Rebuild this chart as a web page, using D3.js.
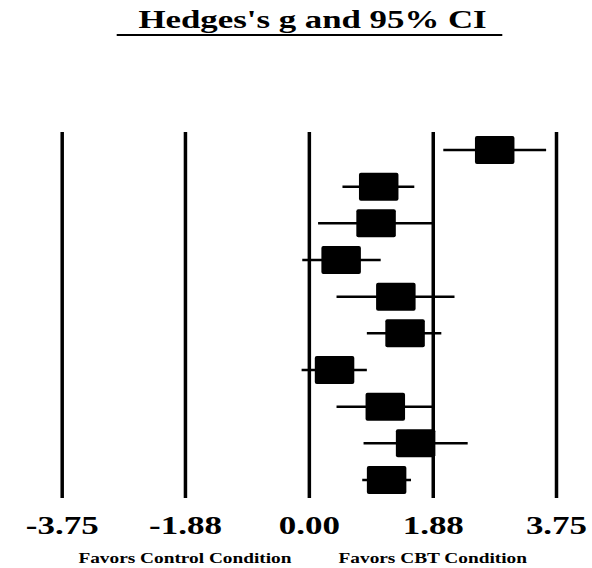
<!DOCTYPE html>
<html>
<head>
<meta charset="utf-8">
<script src="https://cdn.jsdelivr.net/npm/d3@7"></script>
<style>
  html, body { margin: 0; padding: 0; background: #fff; }
  svg { display: block; }
  text { font-family: "Liberation Serif", "Times New Roman", serif; font-weight: bold; fill: #000; }
</style>
</head>
<body>
<div id="chart"></div>
<script>
// study rows, top to bottom
const studies = ['1', '2', '3', '4', '5', '6', '7', '8', '9', '10'];
const hedgesG = [2.82, 1.06, 1.02, 0.49, 1.32, 1.46, 0.39, 1.16, 1.62, 1.18];
const ciLower = [2.04, 0.51, 0.14, -0.10, 0.42, 0.88, -0.11, 0.42, 0.83, 0.81];
const ciUpper = [3.60, 1.60, 1.91, 1.09, 2.21, 2.01, 0.88, 1.87, 2.41, 1.55];
const tickValues = [-3.75, -1.88, 0, 1.88, 3.75];
const titleText = "Hedges's g and 95% CI";
const leftLabel = 'Favors Control Condition';
const rightLabel = 'Favors CBT Condition';

const width = 592;
const height = 568;
const stretch = 1.4; // the original text is wide, squash it out horizontally

const svg = d3
    .select('#chart')
    .append('svg')
    .attr('width', width)
    .attr('height', height);

const data = studies.map((s, i) => ({
    study: s,
    g: hedgesG[i],
    lo: ciLower[i],
    hi: ciUpper[i]
}));

function drawChart() {
    const plot = { top: 132, bottom: 498, left: 61.7, right: 556 };

    const xScale = d3
        .scaleLinear()
        .domain([-3.75, 3.75])
        .range([plot.left, plot.right]);

    const yScale = d3
        .scalePoint()
        .domain(studies)
        .range([150, 480]);

    // vertical reference lines + tick labels
    const axis = svg.append('g')
        .attr('class', 'x-axis')
        .attr('transform', `translate(0, ${plot.bottom})`)
        .call(d3.axisBottom(xScale)
            .tickValues(tickValues)
            .tickSize(-(plot.bottom - plot.top))
            .tickFormat(d => d.toFixed(2)));

    axis.select('.domain').remove();
    axis.selectAll('line')
        .attr('stroke', '#000')
        .attr('stroke-width', 3.5);
    axis.selectAll('text')
        .attr('y', 36)
        .attr('dy', null)
        .attr('fill', '#000')
        .style('font-size', '25px')
        .attr('transform', `scale(${stretch}, 1)`);

    // confidence intervals
    svg.append('g')
        .attr('class', 'whiskers')
        .selectAll('line')
        .data(data)
        .join('line')
        .attr('x1', d => xScale(d.lo))
        .attr('x2', d => xScale(d.hi))
        .attr('y1', d => yScale(d.study))
        .attr('y2', d => yScale(d.study))
        .attr('stroke', '#000')
        .attr('stroke-width', 2.5);

    // effect size boxes
    const boxW = 39.5;
    const boxH = 28;
    svg.append('g')
        .attr('class', 'boxes')
        .selectAll('rect')
        .data(data)
        .join('rect')
        .attr('x', d => xScale(d.g) - boxW / 2)
        .attr('y', d => yScale(d.study) - boxH / 2)
        .attr('width', boxW)
        .attr('height', boxH)
        .attr('rx', 2)
        .attr('fill', '#000');

    // title with underline
    svg.append('text')
        .attr('transform', `translate(312.5, 28) scale(1.34, 1)`)
        .attr('text-anchor', 'middle')
        .style('font-size', '26px')
        .text(titleText);

    svg.append('line')
        .attr('x1', 116.7)
        .attr('x2', 502.3)
        .attr('y1', 35)
        .attr('y2', 35)
        .attr('stroke', '#000')
        .attr('stroke-width', 2);

    // direction labels under the axis
    svg.append('text')
        .attr('transform', `translate(${xScale(-1.88)}, 563) scale(1.38, 1)`)
        .attr('text-anchor', 'middle')
        .style('font-size', '14px')
        .text(leftLabel);

    svg.append('text')
        .attr('transform', `translate(${xScale(1.88)}, 563) scale(1.38, 1)`)
        .attr('text-anchor', 'middle')
        .style('font-size', '14px')
        .text(rightLabel);
}

drawChart();
</script>
</body>
</html>
